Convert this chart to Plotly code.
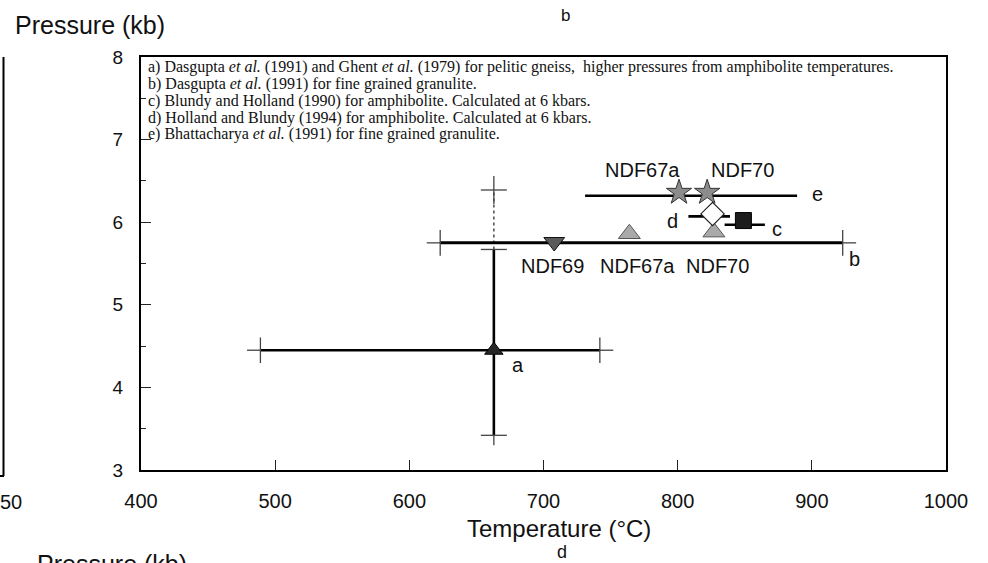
import plotly.graph_objects as go

# ---------------- data ----------------
x_ticks = [400, 500, 600, 700, 800, 900, 1000]
y_ticks = [3, 4, 5, 6, 7, 8]

# a) pelitic gneiss: point with T and P ranges, plus dotted higher-pressure range
a_T, a_P = 663, 4.45
a_T_range = [489, 742]
a_P_range = [3.42, 5.67]
a_P_amph = 6.39

# b) fine grained granulite (Dasgupta) horizontal range
b_P = 5.75
b_T_range = [623, 923]
# e) Bhattacharya horizontal range
e_P = 6.32
e_T_range = [731, 889]
# d) Holland & Blundy
d_T, d_P = 826, 6.10
d_T_range = [808, 839]
d_line_P = 6.07
# c) Blundy & Holland
c_T, c_P = 849, 6.02
c_T_range = [835, 865]
c_line_P = 5.97

# sample points on range b
b_samples = ["NDF69", "NDF67a", "NDF70"]
b_T = [708, 764, 827]
b_Pts = [5.76, 5.86, 5.88]
b_label_T = [707, 770, 830]
b_label_P = [5.47, 5.47, 5.47]

# sample points on range e
e_samples = ["NDF67a", "NDF70"]
e_T = [801, 822]
e_Pts = [6.36, 6.36]
e_label_T = [774, 848]
e_label_P = [6.63, 6.63]

letters = ["a", "b", "c", "d", "e"]
letter_T = [681, 932, 874, 796, 904]
letter_P = [4.27, 5.56, 5.92, 6.02, 6.34]

notes = [
    "a) Dasgupta <i>et al.</i> (1991) and Ghent <i>et al.</i> (1979) for pelitic gneiss,  higher pressures from amphibolite temperatures.",
    "b) Dasgupta <i>et al.</i> (1991) for fine grained granulite.",
    "c) Blundy and Holland (1990) for amphibolite. Calculated at 6 kbars.",
    "d) Holland and Blundy (1994) for amphibolite. Calculated at 6 kbars.",
    "e) Bhattacharya <i>et al.</i> (1991) for fine grained granulite.",
]

# ---------------- style constants ----------------
W, H = 988, 563
L, R, T, B = 141, 42, 57, 93
CAP_T = 9.7      # cap half length in degC (horizontal caps on vertical bars)
CAP_P = 0.155    # cap half length in kb (vertical caps on horizontal bars)
EXT_T = 10.0     # line extension beyond caps (degC)
EXT_P = 0.12     # line extension beyond caps (kb)
SANS = "Liberation Sans, Arial, sans-serif"
SERIF = "Liberation Serif, Times New Roman, serif"


def px_x(px):
    return (px - L) / (W - L - R)


def px_y(py):
    return (H - B - py) / (H - T - B)


fig = go.Figure()


def seg(xs, ys, width=2.6, color="black", dash="solid"):
    fig.add_trace(go.Scatter(x=xs, y=ys, mode="lines", hoverinfo="skip",
                             line=dict(color=color, width=width, dash=dash),
                             showlegend=False))


def hbar(lo, hi, y, caps=True, width=2.6):
    seg([lo, hi], [y, y], width=width)
    if caps:
        xs, ys = [], []
        for v in (lo, hi):
            xs += [v, v, None]
            ys += [y - CAP_P, y + CAP_P, None]
        xs += [lo - EXT_T, lo, None, hi, hi + EXT_T]
        ys += [y, y, None, y, y]
        seg(xs, ys, width=1.3, color="#444")


# a) ranges
hbar(a_T_range[0], a_T_range[1], a_P)
seg([a_T, a_T], [a_P_range[0], a_P_range[1]])
seg([a_T, a_T], [a_P_range[1], a_P_amph], width=1.6, color="#555", dash="dot")
xs, ys = [], []
for v in (a_P_range[0], a_P_range[1], a_P_amph):
    xs += [a_T - CAP_T, a_T + CAP_T, None]
    ys += [v, v, None]
xs += [a_T, a_T, None, a_T, a_T]
ys += [a_P_range[0] - EXT_P, a_P_range[0], None,
       a_P_amph - 0.17, a_P_amph + 0.17]
seg(xs, ys, width=1.3, color="#444")

# b, e, c, d ranges
hbar(b_T_range[0], b_T_range[1], b_P, width=3)
hbar(e_T_range[0], e_T_range[1], e_P, caps=False)
hbar(d_T_range[0], d_T_range[1], d_line_P, caps=False)
hbar(c_T_range[0], c_T_range[1], c_line_P, caps=False)

# markers
fig.add_trace(go.Scatter(x=[a_T], y=[a_P], mode="markers", showlegend=False,
                         marker=dict(symbol="triangle-up", size=16, color="#262626",
                                     line=dict(color="black", width=1))))
fig.add_trace(go.Scatter(x=b_T[:1], y=b_Pts[:1], mode="markers", showlegend=False,
                         marker=dict(symbol="triangle-down", size=18, color="#5a5a5a",
                                     line=dict(color="#111", width=1))))
fig.add_trace(go.Scatter(x=b_T[1:], y=b_Pts[1:], mode="markers", showlegend=False,
                         marker=dict(symbol="triangle-up", size=19, color="#a9a9a9",
                                     line=dict(color="#555", width=1))))
fig.add_trace(go.Scatter(x=e_T, y=e_Pts, mode="markers", showlegend=False,
                         marker=dict(symbol="star", size=19, color="#8c8c8c",
                                     line=dict(color="#333", width=1))))
fig.add_trace(go.Scatter(x=[d_T], y=[d_P], mode="markers", showlegend=False,
                         marker=dict(symbol="diamond", size=18, color="white",
                                     line=dict(color="#222", width=1.2))))
fig.add_trace(go.Scatter(x=[c_T], y=[c_P], mode="markers", showlegend=False,
                         marker=dict(symbol="square", size=16, color="#1c1c1c",
                                     line=dict(color="black", width=1))))

ann = []
for txt, tx, ty in zip(b_samples, b_label_T, b_label_P):
    ann.append(dict(x=tx, y=ty, text=txt, showarrow=False, xref="x", yref="y",
                    xanchor="center", yanchor="middle",
                    font=dict(family=SANS, size=20, color="#111")))
for txt, tx, ty in zip(e_samples, e_label_T, e_label_P):
    ann.append(dict(x=tx, y=ty, text=txt, showarrow=False, xref="x", yref="y",
                    xanchor="center", yanchor="middle",
                    font=dict(family=SANS, size=20, color="#111")))
for txt, tx, ty in zip(letters, letter_T, letter_P):
    ann.append(dict(x=tx, y=ty, text=txt, showarrow=False, xref="x", yref="y",
                    xanchor="center", yanchor="middle",
                    font=dict(family=SANS, size=20, color="#111")))

note_y = [67, 84, 101, 118, 134]
for txt, py in zip(notes, note_y):
    ann.append(dict(x=px_x(146), y=px_y(py), text=txt, showarrow=False,
                    xref="paper", yref="paper", xanchor="left", yanchor="middle",
                    font=dict(family=SERIF, size=16, color="#111")))


def pann(px, py, text, size, xanchor="center", yanchor="middle"):
    return dict(x=px_x(px), y=px_y(py), text=text, showarrow=False,
                xref="paper", yref="paper", xanchor=xanchor, yanchor=yanchor,
                font=dict(family=SANS, size=size, color="#111"))


# axis titles and surrounding panel fragments
ann += [
    pann(13, 25, "Pressure (kb)", 25, xanchor="left"),
    pann(559, 528, "Temperature (°C)", 24),
    pann(565, 15, "b", 17),
    pann(562, 552, "d", 18),
    pann(11, 502, "50", 20),
    pann(35, 548, "Pressure (kb)", 25, xanchor="left", yanchor="top"),
]

shapes = [
    dict(type="line", xref="paper", yref="paper", x0=px_x(3.5), x1=px_x(3.5),
         y0=px_y(57), y1=px_y(476), line=dict(color="black", width=2)),
    dict(type="line", xref="paper", yref="paper", x0=px_x(0), x1=px_x(4),
         y0=px_y(476), y1=px_y(476), line=dict(color="black", width=2)),
]

fig.update_layout(
    width=W, height=H, autosize=False,
    margin=dict(l=L, r=R, t=T, b=B),
    paper_bgcolor="white", plot_bgcolor="white",
    annotations=ann, shapes=shapes, showlegend=False,
    xaxis=dict(range=[400, 1000], tickvals=x_ticks, ticks="inside", ticklen=10,
               tickwidth=1.3, tickcolor="#222", showline=True, linewidth=2,
               linecolor="black", mirror=True, showgrid=False, zeroline=False,
               ticklabelstandoff=12,
               tickfont=dict(family=SANS, size=20, color="#111")),
    yaxis=dict(range=[3, 8], tickvals=y_ticks, ticks="inside", ticklen=10,
               tickwidth=1.3, tickcolor="#222", showline=True, linewidth=2,
               linecolor="black", mirror=True, showgrid=False, zeroline=False,
               minor=dict(dtick=0.5, ticks="inside", ticklen=5, tickwidth=1.3,
                          tickcolor="#222", showgrid=False),
               ticklabelstandoff=12,
               tickfont=dict(family=SANS, size=19, color="#111")),
)

fig.write_html("out.html")
